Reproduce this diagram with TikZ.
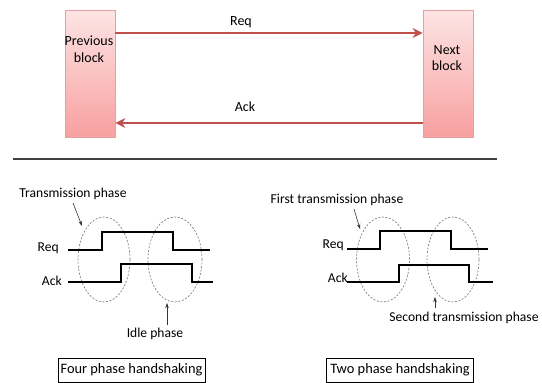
\documentclass[tikz,border=0pt]{standalone}
\usepackage{fontspec}
\setmainfont{Carlito}
\usetikzlibrary{arrows.meta,shapes.geometric}
\definecolor{blockline}{RGB}{226,160,160}
\definecolor{blocktop}{RGB}{253,228,228}
\definecolor{blockbot}{RGB}{248,160,160}
\definecolor{arrowred}{RGB}{192,80,77}
\tikzset{
  blockbox/.style={draw=blockline, line width=0.8pt, top color=blocktop, bottom color=blockbot, minimum width=50pt, minimum height=127pt, inner sep=0pt},
  bigtxt/.style={font=\fontsize{14}{16.5}\selectfont, align=center, inner sep=0pt},
  smalltxt/.style={font=\fontsize{13.6}{15}\selectfont, inner sep=0pt},
  redarrow/.style={draw=arrowred, line width=2.2pt, -{Stealth[length=10pt,width=10pt]}},
  wave/.style={line width=1.8pt, line join=miter},
  phaseell/.style={ellipse, draw=gray, dashed, dash pattern=on 2pt off 1.6pt, line width=0.7pt, inner sep=0pt},
  note/.style={draw=black!80, line width=0.6pt, -{Stealth[length=5pt,width=3.5pt]}},
  capbox/.style={draw, line width=0.9pt, minimum width=147pt, minimum height=24pt, inner sep=0pt, font=\fontsize{14.4}{16}\selectfont}
}
\begin{document}
\begin{tikzpicture}[x=1pt,y=-1pt]
\useasboundingbox (0,0) rectangle (542,383);
% top blocks
\node[blockbox] (prev) at (90,73.5) {};
\node[blockbox] (next) at (448,73.5) {};
\node[bigtxt] (prevtxt) at (89,49) {Previous\\block};
\node[bigtxt] (nexttxt) at (447,58) {Next\\block};
\coordinate (reqa) at (prev.east |- 0,33);
\coordinate (reqb) at (next.west |- 0,33);
\coordinate (acka) at (next.west |- 0,123);
\coordinate (ackb) at (prev.east |- 0,123);
\draw[redarrow] (reqa) -- (reqb);
\draw[redarrow] (acka) -- (ackb);
\node[bigtxt] (reqlbl) at (241,22) {Req};
\node[bigtxt] (acklbl) at (245,107) {Ack};
% separator
\coordinate (sepa) at (13,159);
\coordinate (sepb) at (497,159);
\draw[line width=1.5pt, black!75] (sepa) -- (sepb);
% ---- left: four phase
\node[phaseell, minimum width=52pt, minimum height=85pt] (le1) at (104,259.5) {};
\node[phaseell, minimum width=54pt, minimum height=85pt] (le2) at (175,259.5) {};
\draw[wave] (68,250) -- (102,250) -- (102,232) -- (173,232) -- (173,250) -- (210,250);
\draw[wave] (68,282) -- (121,282) -- (121,264) -- (192,264) -- (192,282) -- (213,282);
\node[smalltxt, anchor=east] (lreq) at (59,248) {Req};
\node[smalltxt, anchor=east] (lack) at (62,281) {Ack};
\node[smalltxt] (ltx) at (73,194) {Transmission phase};
\coordinate (ltxa) at (73,203);
\coordinate (ltxb) at (82,226);
\draw[note] (ltxa) -- (ltxb);
\node[smalltxt] (lidle) at (155,334) {Idle phase};
\coordinate (lida) at (167,325);
\coordinate (lidb) at (167,303);
\draw[note] (lida) -- (lidb);
\node[capbox] (lcap) at (131.5,370) {Four phase handshaking};
% ---- right: two phase
\node[phaseell, minimum width=53pt, minimum height=85pt] (re1) at (383,259.5) {};
\node[phaseell, minimum width=52pt, minimum height=85pt] (re2) at (453,259.5) {};
\draw[wave] (347,249) -- (380,249) -- (380,231) -- (451,231) -- (451,249) -- (488,249);
\draw[wave] (347,282) -- (399,282) -- (399,265) -- (469,265) -- (469,282) -- (493,282);
\node[smalltxt, anchor=east] (rreq) at (344,245) {Req};
\node[smalltxt, anchor=east] (rack) at (348,278) {Ack};
\node[smalltxt] (rtx) at (337,200) {First transmission phase};
\coordinate (rtxa) at (354,209);
\coordinate (rtxb) at (360,229);
\draw[note] (rtxa) -- (rtxb);
\node[smalltxt] (rsec) at (464,318) {Second transmission phase};
\coordinate (rsa) at (435,308);
\coordinate (rsb) at (435,297);
\draw[note] (rsa) -- (rsb);
\node[capbox] (rcap) at (400,370) {Two phase handshaking};
\end{tikzpicture}
\end{document}
